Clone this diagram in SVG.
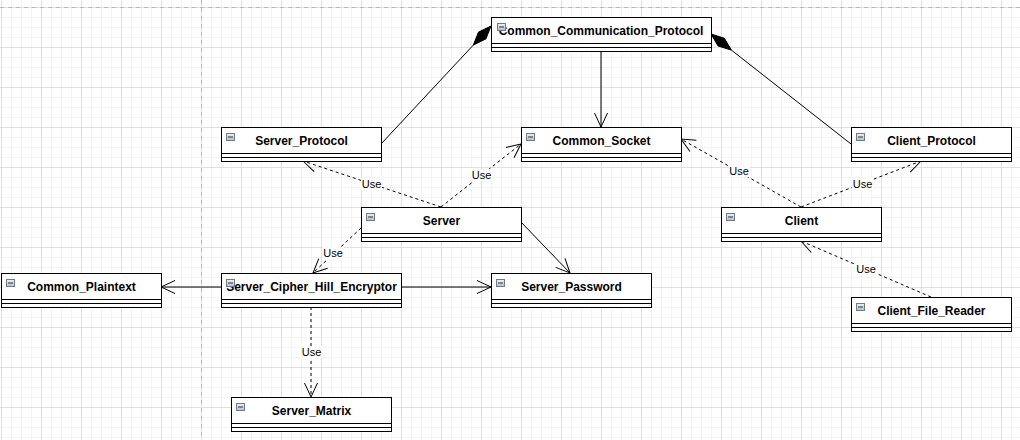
<svg xmlns="http://www.w3.org/2000/svg" width="1020" height="440" viewBox="0 0 1020 440">
<style>
.box{fill:#ffffff;stroke:#000000;stroke-width:1}
.sep{stroke:#000000;stroke-width:1}
.name{font-family:"Liberation Sans",Arial,sans-serif;font-size:12px;font-weight:bold;fill:#000000;text-anchor:middle}
.edge{fill:none;stroke:#000000;stroke-width:1}
.dash{stroke-dasharray:3,3}
.lbl{font-family:"Liberation Sans",Arial,sans-serif;font-size:11px;fill:#000000;text-anchor:middle}
.lblbg{fill:#ffffff}
.diam{fill:#000000;stroke:#000000;stroke-width:1}
</style>
<defs>
<pattern id="minor" x="1" y="7" width="10" height="10" patternUnits="userSpaceOnUse">
<path d="M0.5,0 V10 M0,0.5 H10" stroke="#f4f4f4" stroke-width="1" fill="none"/>
</pattern>
<pattern id="major" x="1" y="7" width="40" height="40" patternUnits="userSpaceOnUse">
<path d="M0.5,0 V40 M0,0.5 H40" stroke="#e0e0e0" stroke-width="1" fill="none"/>
</pattern>
<linearGradient id="icg" x1="0" y1="0" x2="0" y2="1">
<stop offset="0" stop-color="#f2f4f6"/>
<stop offset="1" stop-color="#b4bcc6"/>
</linearGradient>
<g id="icon">
<rect x="0.5" y="0.5" width="8" height="7" fill="url(#icg)" stroke="#6f7b89" stroke-width="1"/>
<line x1="2" y1="4" x2="7" y2="4" stroke="#333333" stroke-width="1"/>
</g>
<marker id="open" viewBox="-15 -8 16 16" refX="0" refY="0" markerWidth="16" markerHeight="16" markerUnits="userSpaceOnUse" orient="auto">
<path d="M-14,-6.5 L0,0 L-14,6.5" fill="none" stroke="#000000" stroke-width="1"/>
</marker>
</defs>
<rect x="0" y="0" width="1020" height="440" fill="#ffffff"/>
<rect x="0" y="0" width="1020" height="440" fill="url(#minor)"/>
<rect x="0" y="0" width="1020" height="440" fill="url(#major)"/>
<line x1="201.5" y1="0" x2="201.5" y2="440" stroke="#b8b8b8" stroke-width="1" stroke-dasharray="4,4"/>
<line x1="0" y1="7.5" x2="1020" y2="7.5" stroke="#b8b8b8" stroke-width="1" stroke-dasharray="4,4"/>

<g id="connectors">
<line class="edge" x1="381" y1="144" x2="473.3" y2="45.1"/>
<polygon class="diam" points="491,26 485.9,38.9 473.3,45.1 478.5,32.1"/>
<line class="edge" x1="731.4" y1="50.1" x2="851" y2="144"/>
<polygon class="diam" points="711,34 724.3,38.2 731.4,50.1 718.1,46"/>
<line class="edge" x1="601" y1="51" x2="601" y2="127" marker-end="url(#open)"/>
<line class="edge dash" x1="441" y1="207" x2="303" y2="161" marker-end="url(#open)"/>
<line class="edge dash" x1="441" y1="207" x2="521" y2="144" marker-end="url(#open)"/>
<line class="edge dash" x1="801" y1="207" x2="681" y2="139" marker-end="url(#open)"/>
<line class="edge dash" x1="801" y1="207" x2="921" y2="161" marker-end="url(#open)"/>
<line class="edge dash" x1="931" y1="297" x2="801" y2="241" marker-end="url(#open)"/>
<line class="edge dash" x1="361" y1="228" x2="313" y2="273" marker-end="url(#open)"/>
<line class="edge" x1="521" y1="222" x2="570" y2="273" marker-end="url(#open)"/>
<line class="edge" x1="221" y1="287" x2="161" y2="287" marker-end="url(#open)"/>
<line class="edge" x1="401" y1="287" x2="491" y2="287" marker-end="url(#open)"/>
<line class="edge dash" x1="311" y1="307" x2="311" y2="397" marker-end="url(#open)"/>
<rect class="lblbg" x="361" y="178" width="21" height="12"/><text class="lbl" x="371.5" y="188">Use</text>
<rect class="lblbg" x="471" y="169" width="21" height="12"/><text class="lbl" x="481.5" y="179">Use</text>
<rect class="lblbg" x="729" y="165" width="21" height="12"/><text class="lbl" x="739" y="175">Use</text>
<rect class="lblbg" x="852" y="178" width="21" height="12"/><text class="lbl" x="862.5" y="188">Use</text>
<rect class="lblbg" x="856" y="263" width="21" height="12"/><text class="lbl" x="866" y="273">Use</text>
<rect class="lblbg" x="323" y="247" width="21" height="12"/><text class="lbl" x="333" y="257">Use</text>
<rect class="lblbg" x="301" y="346" width="21" height="12"/><text class="lbl" x="311.5" y="356">Use</text>
</g>

<g id="common-communication-protocol">
<rect class="box" x="491.5" y="17.5" width="220" height="34"/>
<line class="sep" x1="491.5" y1="43.5" x2="711.5" y2="43.5"/>
<line class="sep" x1="491.5" y1="47.5" x2="711.5" y2="47.5"/>
<text class="name" x="601" y="34.5">Common_Communication_Protocol</text>
<use href="#icon" x="497" y="23"/>
</g>

<g id="server-protocol">
<rect class="box" x="221.5" y="127.5" width="160" height="34"/>
<line class="sep" x1="221.5" y1="153.5" x2="381.5" y2="153.5"/>
<line class="sep" x1="221.5" y1="157.5" x2="381.5" y2="157.5"/>
<use href="#icon" x="226" y="133"/>
<text class="name" x="301.5" y="144.5">Server_Protocol</text>
</g>

<g id="common-socket">
<rect class="box" x="521.5" y="127.5" width="160" height="34"/>
<line class="sep" x1="521.5" y1="153.5" x2="681.5" y2="153.5"/>
<line class="sep" x1="521.5" y1="157.5" x2="681.5" y2="157.5"/>
<use href="#icon" x="526" y="133"/>
<text class="name" x="601.5" y="144.5">Common_Socket</text>
</g>

<g id="client-protocol">
<rect class="box" x="851.5" y="127.5" width="160" height="34"/>
<line class="sep" x1="851.5" y1="153.5" x2="1011.5" y2="153.5"/>
<line class="sep" x1="851.5" y1="157.5" x2="1011.5" y2="157.5"/>
<use href="#icon" x="856" y="133"/>
<text class="name" x="931.5" y="144.5">Client_Protocol</text>
</g>

<g id="server">
<rect class="box" x="361.5" y="207.5" width="160" height="34"/>
<line class="sep" x1="361.5" y1="233.5" x2="521.5" y2="233.5"/>
<line class="sep" x1="361.5" y1="237.5" x2="521.5" y2="237.5"/>
<use href="#icon" x="366" y="213"/>
<text class="name" x="441.5" y="224.5">Server</text>
</g>

<g id="client">
<rect class="box" x="721.5" y="207.5" width="160" height="34"/>
<line class="sep" x1="721.5" y1="233.5" x2="881.5" y2="233.5"/>
<line class="sep" x1="721.5" y1="237.5" x2="881.5" y2="237.5"/>
<use href="#icon" x="726" y="213"/>
<text class="name" x="801.5" y="224.5">Client</text>
</g>

<g id="common-plaintext">
<rect class="box" x="1.5" y="273.5" width="160" height="34"/>
<line class="sep" x1="1.5" y1="299.5" x2="161.5" y2="299.5"/>
<line class="sep" x1="1.5" y1="303.5" x2="161.5" y2="303.5"/>
<use href="#icon" x="6" y="279"/>
<text class="name" x="81.5" y="290.5">Common_Plaintext</text>
</g>

<g id="server-cipher-hill-encryptor">
<rect class="box" x="221.5" y="273.5" width="180" height="34"/>
<line class="sep" x1="221.5" y1="299.5" x2="401.5" y2="299.5"/>
<line class="sep" x1="221.5" y1="303.5" x2="401.5" y2="303.5"/>
<text class="name" x="311.5" y="290.5">Server_Cipher_Hill_Encryptor</text>
<use href="#icon" x="226" y="279"/>
</g>

<g id="server-password">
<rect class="box" x="491.5" y="273.5" width="160" height="34"/>
<line class="sep" x1="491.5" y1="299.5" x2="651.5" y2="299.5"/>
<line class="sep" x1="491.5" y1="303.5" x2="651.5" y2="303.5"/>
<use href="#icon" x="496" y="279"/>
<text class="name" x="571.5" y="290.5">Server_Password</text>
</g>

<g id="client-file-reader">
<rect class="box" x="851.5" y="297.5" width="160" height="34"/>
<line class="sep" x1="851.5" y1="323.5" x2="1011.5" y2="323.5"/>
<line class="sep" x1="851.5" y1="327.5" x2="1011.5" y2="327.5"/>
<use href="#icon" x="856" y="303"/>
<text class="name" x="931.5" y="314.5">Client_File_Reader</text>
</g>

<g id="server-matrix">
<rect class="box" x="231.5" y="397.5" width="160" height="34"/>
<line class="sep" x1="231.5" y1="423.5" x2="391.5" y2="423.5"/>
<line class="sep" x1="231.5" y1="427.5" x2="391.5" y2="427.5"/>
<use href="#icon" x="236" y="403"/>
<text class="name" x="311.5" y="414.5">Server_Matrix</text>
</g>
</svg>
